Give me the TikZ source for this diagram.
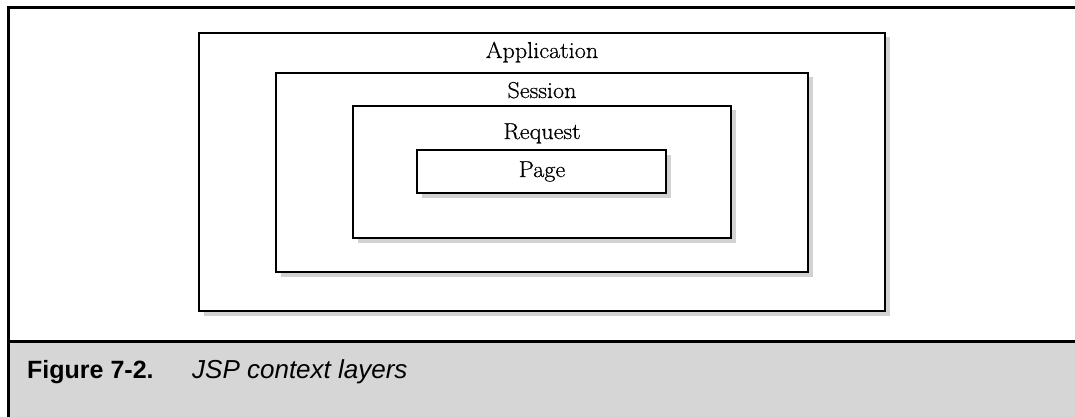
\documentclass[tikz,border=0pt]{standalone}
\usepackage{fontspec}
\setmainfont{Latin Modern Roman}[FakeStretch=1.05, FakeBold=0.6]
\newfontfamily\capfont{Liberation Sans}
\usetikzlibrary{shadows}
\definecolor{capgray}{HTML}{D6D6D6}
\definecolor{shadowgray}{HTML}{D2D2D2}
\tikzset{
  layer/.style={draw=black, line width=2pt, fill=white, inner sep=0pt,
    drop shadow={shadow xshift=4.5pt, shadow yshift=-4.5pt, fill=shadowgray, opacity=1}},
  layername/.style={anchor=base, inner sep=0pt, font=\fontsize{23}{27}\selectfont},
  frameline/.style={line width=3pt, black},
}
\begin{document}
\begin{tikzpicture}[x=1pt, y=-1pt]
  \useasboundingbox (0,0) rectangle (1075,417);
  % caption band
  \fill[capgray] (10,343) rectangle (1075,417);
  % frame
  \coordinate (ftl) at (8.5,8);
  \coordinate (ftr) at (1075,8);
  \coordinate (fbl) at (8.5,417);
  \coordinate (sl) at (8.5,341.5);
  \coordinate (sr) at (1075,341.5);
  \draw[frameline] (ftr) -- (ftl) -- (fbl);
  \draw[frameline] (sl) -- (sr);
  % nested scopes, outermost first
  \node[layer, minimum width=686pt, minimum height=278pt] (app) at (542,172) {};
  \node[layer, minimum width=532pt, minimum height=199pt] (ses) at (542,172.5) {};
  \node[layer, minimum width=378pt, minimum height=132pt] (req) at (542,172) {};
  \node[layer, minimum width=249pt, minimum height=43pt] (pag) at (541.5,171.5) {};
  % scope names
  \node[layername] (tapp) at (542,58) {Application};
  \node[layername] (tses) at (542,98) {Session};
  \node[layername] (treq) at (542,139) {Request};
  \node[layername] (tpag) at (542,177) {Page};
  % caption
  \node[anchor=base west, inner sep=0pt, font=\capfont\bfseries\fontsize{25}{30}\selectfont] (fignum) at (27,378) {Figure 7-2.};
  \node[anchor=base west, inner sep=0pt, font=\capfont\itshape\fontsize{26}{31}\selectfont] (figtitle) at (192,378) {JSP context layers};
\end{tikzpicture}
\end{document}
